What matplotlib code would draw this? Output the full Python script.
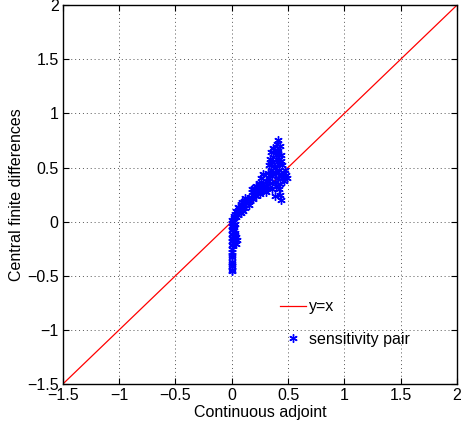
import numpy as np
import matplotlib
matplotlib.use("Agg")
import matplotlib.pyplot as plt

plt.rcParams['font.family'] = ['Liberation Sans', 'DejaVu Sans']

# sensitivity pairs: continuous adjoint vs central finite differences
adjoint = [
    0.00, 0.00, 0.00, 0.01, 0.00, 0.00, 0.01, 0.00, 0.00, 0.01, 0.00, 0.00, 0.00, 0.00,
    0.01, 0.02, 0.02, 0.03, 0.04, 0.05, 0.04, 0.03, 0.00, 0.01, 0.02, 0.03, 0.02,
    0.00, 0.00, 0.00, 0.00, 0.00,
    0.02, 0.03, 0.04, 0.05, 0.06, 0.07, 0.08, 0.09, 0.10, 0.10, 0.11, 0.12, 0.13, 0.14,
    0.15, 0.16, 0.12, 0.09, 0.04, 0.06, 0.08,
    0.17, 0.18, 0.19, 0.20, 0.21, 0.22, 0.22, 0.23, 0.24, 0.24, 0.25, 0.26, 0.26, 0.27,
    0.28, 0.28, 0.29, 0.30, 0.30, 0.31, 0.20, 0.25, 0.18,
    0.32, 0.33, 0.33, 0.34, 0.34, 0.35, 0.35, 0.36, 0.36, 0.37, 0.37, 0.38, 0.38, 0.39,
    0.39, 0.40, 0.40, 0.41, 0.41, 0.41, 0.42, 0.42, 0.43, 0.43, 0.44, 0.44, 0.45, 0.45,
    0.46, 0.47, 0.43, 0.44, 0.42, 0.46, 0.39, 0.36, 0.48, 0.49, 0.32, 0.38,
    0.34, 0.37, 0.40, 0.42, 0.44, 0.31, 0.35, 0.47,
]
finite_diff = [
    0.02, -0.01, -0.04, -0.06, -0.08, -0.11, -0.13, -0.15, -0.18, -0.20, -0.22, -0.25, -0.28, -0.31,
    0.00, -0.03, 0.03, -0.10, -0.14, -0.17, -0.21, -0.12, -0.33, -0.07, -0.05, -0.02, -0.16,
    -0.37, -0.39, -0.41, -0.45, -0.46,
    0.05, 0.07, 0.04, 0.09, 0.06, 0.11, 0.08, 0.13, 0.10, 0.15, 0.19, 0.13, 0.17, 0.21,
    0.15, 0.19, 0.22, 0.18, 0.10, 0.14, 0.16,
    0.23, 0.27, 0.21, 0.25, 0.29, 0.24, 0.33, 0.27, 0.36, 0.30, 0.26, 0.32, 0.40, 0.28,
    0.35, 0.44, 0.30, 0.38, 0.27, 0.33, 0.31, 0.34, 0.30,
    0.45, 0.40, 0.52, 0.36, 0.58, 0.48, 0.64, 0.42, 0.55, 0.60, 0.68, 0.50, 0.37, 0.62,
    0.45, 0.72, 0.55, 0.75, 0.65, 0.40, 0.58, 0.48, 0.70, 0.35, 0.62, 0.44, 0.52, 0.40,
    0.45, 0.42, 0.25, 0.20, 0.30, 0.38, 0.33, 0.30, 0.43, 0.40, 0.31, 0.24,
    0.43, 0.46, 0.66, 0.53, 0.56, 0.38, 0.53, 0.48,
]

lim = [-1.5, 2.0]
ticks = [-1.5, -1, -0.5, 0, 0.5, 1, 1.5, 2]
tick_labels = ["\u22121.5", "\u22121", "\u22120.5", "0", "0.5", "1", "1.5", "2"]

fig = plt.figure(figsize=(4.62, 4.32), dpi=100)
ax = fig.add_axes([0.136, 0.111, 0.853, 0.877])

ax.plot(lim, lim, color="red", lw=0.9, label="y=x")
ax.plot(adjoint, finite_diff, ls="none", marker=(6, 2, 0), ms=6, color="blue",
        markeredgewidth=1.0, label="sensitivity pair")

ax.set_xlim(lim)
ax.set_ylim(lim)
ax.set_xticks(ticks)
ax.set_yticks(ticks)
ax.set_xticklabels(tick_labels)
ax.set_yticklabels(tick_labels)
ax.grid(True, ls=(0, (1, 3)), color="#555555", lw=0.7)
ax.tick_params(direction="in", top=True, right=True, labelsize=11.5, length=4, pad=3)
for s in ax.spines.values():
    s.set_linewidth(1.0)

ax.set_xlabel("Continuous adjoint", fontsize=11.5, labelpad=1)
ax.set_ylabel("Central finite differences", fontsize=11.5, labelpad=2)

ax.legend(loc="upper left", bbox_to_anchor=(0.515, 0.262), frameon=False,
          fontsize=11.5, labelspacing=1.1, handlelength=1.6, handletextpad=0.2)

fig.savefig("out.png", dpi=100)
